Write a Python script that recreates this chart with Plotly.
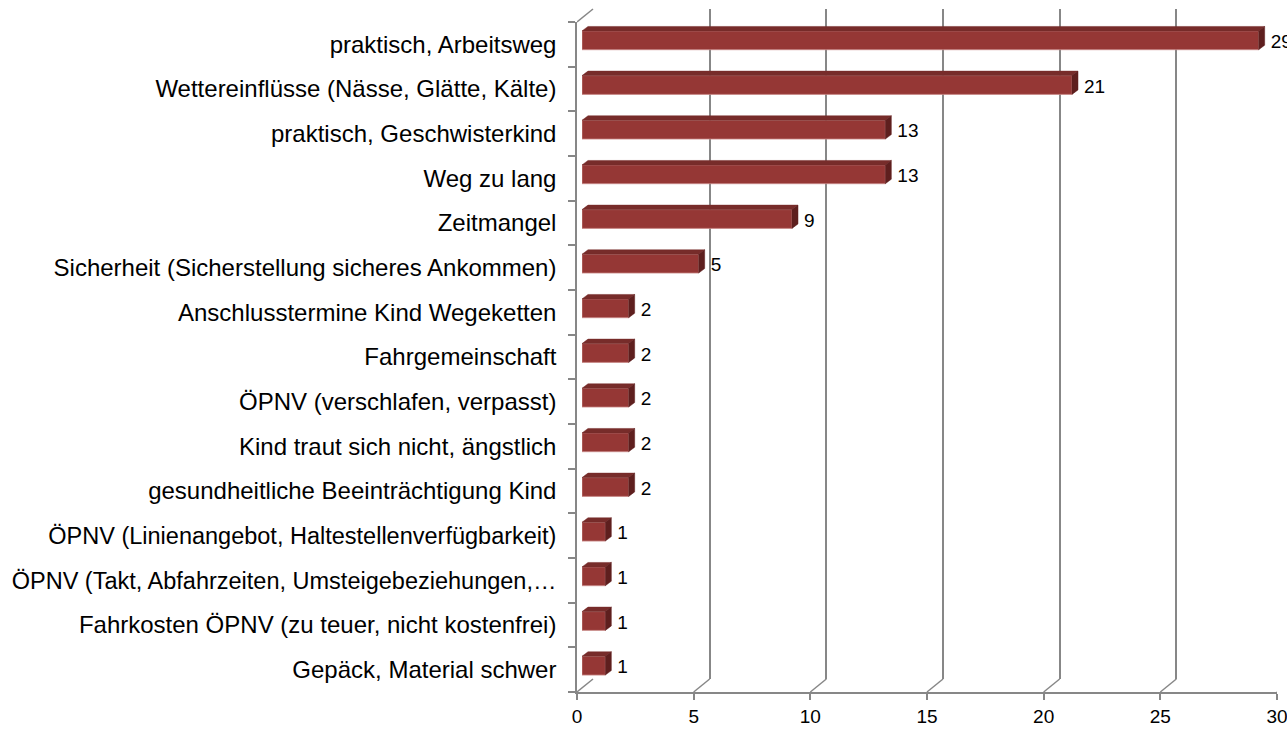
import plotly.graph_objects as go

categories = [
    "praktisch, Arbeitsweg",
    "Wettereinflüsse (Nässe, Glätte, Kälte)",
    "praktisch, Geschwisterkind",
    "Weg zu lang",
    "Zeitmangel",
    "Sicherheit (Sicherstellung sicheres Ankommen)",
    "Anschlusstermine Kind Wegeketten",
    "Fahrgemeinschaft",
    "ÖPNV (verschlafen, verpasst)",
    "Kind traut sich nicht, ängstlich",
    "gesundheitliche Beeinträchtigung Kind",
    "ÖPNV (Linienangebot, Haltestellenverfügbarkeit)",
    "ÖPNV (Takt, Abfahrzeiten, Umsteigebeziehungen,…",
    "Fahrkosten ÖPNV (zu teuer, nicht kostenfrei)",
    "Gepäck, Material schwer",
]
values = [29, 21, 13, 13, 9, 5, 2, 2, 2, 2, 2, 1, 1, 1, 1]
x_ticks = [0, 5, 10, 15, 20, 25, 30]

# ---- geometry (pixels); page body margin removed via post_script ----
W, H = 1287, 729
ML, MR, MT, MB = 577, 0, 9, 37
PW = W - ML - MR
PH = H - MT - MB
XMAX = 30
FRONT_W, FRONT_H = 700, 670
ppu = FRONT_W / XMAX
BACK_DX, BACK_DY = 16, 13
BAR_DX, BAR_DY = 5, 4
DEPTH_DX, DEPTH_DY = 6, 4.5
BAR_WIDTH = 0.42
LABEL_GAP = 6
LABEL_DROP = 3

n = len(categories)
idx = list(range(n))
cat_px = FRONT_H / n
yrange = [n - 0.5, -0.5]

FONT = "Liberation Sans, Arial, sans-serif"
GRID = "#878787"
FACE = "#953735"
TOP = "#772c2a"
SIDE = "#5e1f1e"

# long (already truncated) label slightly condensed so it fits, as in the original
MAX_CHARS = 46
tick_text = [c if len(c) <= MAX_CHARS else '<span style="font-size:23.5px">' + c + "</span>"
             for c in categories]

def xdom(dx, width):
    return [dx / PW, min(1.0, (dx + width) / PW)]

def ydom(dy, height):
    return [dy / PH, min(1.0, (dy + height) / PH)]

fig = go.Figure()

# back plane (invisible anchor trace)
fig.add_trace(go.Scatter(x=[None], y=[None], xaxis="x2", yaxis="y2",
                         showlegend=False, hoverinfo="skip"))

# 3D faces for bars
dxu = DEPTH_DX / ppu
dyu = DEPTH_DY / cat_px
top_x, top_y, side_x, side_y = [], [], [], []
for i, v in zip(idx, values):
    yt = i - BAR_WIDTH / 2
    yb = i + BAR_WIDTH / 2
    top_x += [0, v, v + dxu, dxu, 0, None]
    top_y += [yt, yt, yt - dyu, yt - dyu, yt, None]
    side_x += [v, v + dxu, v + dxu, v, v, None]
    side_y += [yt, yt - dyu, yb - dyu, yb, yt, None]

fig.add_trace(go.Scatter(x=top_x, y=top_y, xaxis="x3", yaxis="y3", mode="lines",
                         fill="toself", fillcolor=TOP, line=dict(width=0.5, color=TOP),
                         showlegend=False, hoverinfo="skip"))
fig.add_trace(go.Scatter(x=side_x, y=side_y, xaxis="x3", yaxis="y3", mode="lines",
                         fill="toself", fillcolor=SIDE, line=dict(width=0.5, color=SIDE),
                         showlegend=False, hoverinfo="skip"))
fig.add_trace(go.Bar(x=values, y=idx, orientation="h", width=BAR_WIDTH,
                     xaxis="x3", yaxis="y3",
                     marker=dict(color=FACE, line=dict(color="#c98a88", width=0.8)),
                     showlegend=False, hoverinfo="skip"))
fig.add_trace(go.Scatter(x=[v + dxu + LABEL_GAP / ppu for v in values],
                         y=[i + LABEL_DROP / cat_px for i in idx],
                         xaxis="x3", yaxis="y3",
                         mode="text", text=[str(v) for v in values],
                         textposition="middle right",
                         textfont=dict(family=FONT, size=19, color="#000"),
                         cliponaxis=False, showlegend=False, hoverinfo="skip"))

# front plane anchor trace
fig.add_trace(go.Scatter(x=[None], y=[None], showlegend=False, hoverinfo="skip"))

shapes = []
for t in x_ticks:
    shapes.append(dict(type="line", xref="x", xsizemode="pixel", xanchor=t, x0=0, x1=BACK_DX,
                       yref="paper", ysizemode="pixel", yanchor=0, y0=0, y1=BACK_DY,
                       line=dict(color=GRID, width=1.5), layer="below"))
shapes.append(dict(type="line", xref="x", xsizemode="pixel", xanchor=0, x0=0, x1=BACK_DX,
                   yref="paper", ysizemode="pixel", yanchor=FRONT_H / PH, y0=0, y1=BACK_DY,
                   line=dict(color=GRID, width=1.5), layer="below"))

fig.update_layout(
    template="none",
    width=W, height=H,
    margin=dict(l=ML, r=MR, t=MT, b=MB, autoexpand=False),
    paper_bgcolor="white", plot_bgcolor="rgba(0,0,0,0)",
    font=dict(family=FONT, size=20, color="#000"),
    showlegend=False,
    hovermode=False,
    shapes=shapes,
    xaxis=dict(domain=xdom(0, FRONT_W), range=[0, XMAX], anchor="y", automargin=False,
               showgrid=False, zeroline=False, showline=True, linecolor=GRID, linewidth=1.5,
               tickvals=x_ticks, ticks="outside", ticklen=6, tickcolor=GRID, tickwidth=1.5,
               tickfont=dict(size=19), ticklabeloverflow="allow"),
    yaxis=dict(domain=ydom(0, FRONT_H), range=yrange, anchor="x", automargin=False,
               showgrid=False, zeroline=False, showline=True, linecolor=GRID, linewidth=1.5,
               tickvals=idx, ticktext=tick_text, ticks="", ticklabelstandoff=14,
               tickfont=dict(size=24), ticklabeloverflow="allow",
               minor=dict(tickvals=[i - 0.5 for i in range(n + 1)], ticks="outside",
                          ticklen=7, tickcolor=GRID, tickwidth=1.5, showgrid=False)),
    xaxis2=dict(domain=xdom(BACK_DX, FRONT_W), range=[0, (PW - BACK_DX) / ppu], anchor="y2",
                automargin=False,
                showgrid=True, gridcolor=GRID, gridwidth=1.5, zeroline=False, showline=False,
                tickvals=x_ticks, showticklabels=False, ticks=""),
    yaxis2=dict(domain=ydom(BACK_DY, FRONT_H), range=yrange, anchor="x2", automargin=False,
                showgrid=False, zeroline=False, showline=False, showticklabels=False, ticks=""),
    xaxis3=dict(domain=xdom(BAR_DX, FRONT_W), range=[0, XMAX], anchor="y3",
                automargin=False, visible=False),
    yaxis3=dict(domain=ydom(BAR_DY, FRONT_H), range=yrange, anchor="x3",
                automargin=False, visible=False),
)

fig.write_html("out.html", config={"displayModeBar": False},
               post_script="document.body.style.margin='0';document.body.style.overflow='hidden';")
